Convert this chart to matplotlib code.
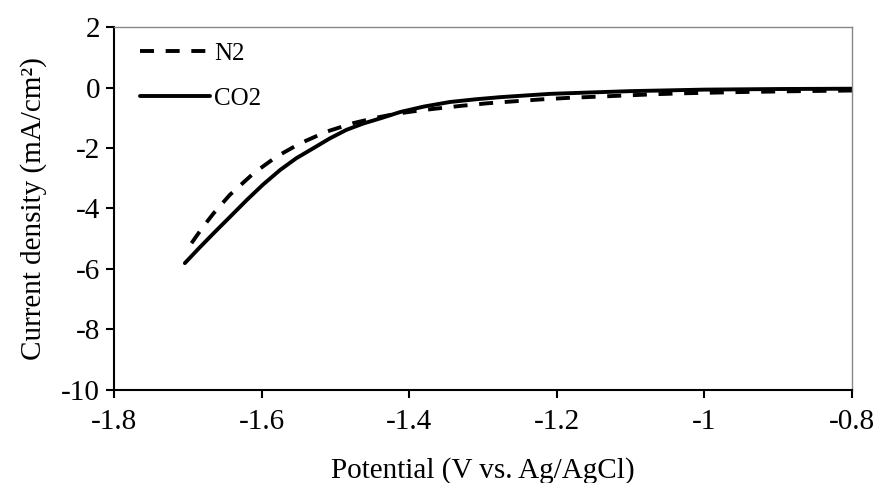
import matplotlib
matplotlib.use("Agg")
import matplotlib.pyplot as plt

# Linear sweep voltammetry under N2 and CO2
potential_n2 = [-1.695, -1.680, -1.665, -1.643, -1.611, -1.580, -1.548, -1.512,
                -1.476, -1.445, -1.420, -1.395, -1.368, -1.331, -1.293, -1.254,
                -1.219, -1.182, -1.141, -1.104, -1.064, -1.026, -0.950, -0.870,
                -0.800]
current_n2 = [-5.15, -4.63, -4.16, -3.55, -2.84, -2.29, -1.85, -1.46,
              -1.18, -1.00, -0.88, -0.79, -0.71, -0.61, -0.52, -0.45,
              -0.39, -0.34, -0.30, -0.26, -0.22, -0.19, -0.15, -0.12,
              -0.10]

potential_co2 = [-1.704, -1.685, -1.665, -1.642, -1.620, -1.598, -1.575, -1.553,
                 -1.530, -1.508, -1.485, -1.462, -1.439, -1.412, -1.380, -1.345,
                 -1.310, -1.277, -1.240, -1.209, -1.150, -1.100, -1.000, -0.900,
                 -0.800]
current_co2 = [-5.81, -5.32, -4.82, -4.26, -3.72, -3.21, -2.73, -2.34,
               -2.01, -1.69, -1.40, -1.19, -1.02, -0.81, -0.63, -0.48,
               -0.39, -0.32, -0.26, -0.21, -0.16, -0.12, -0.07, -0.05,
               -0.04]

x_ticks = [-1.8, -1.6, -1.4, -1.2, -1.0, -0.8]
x_tick_labels = ["-1.8", "-1.6", "-1.4", "-1.2", "-1", "-0.8"]
y_ticks = [-10, -8, -6, -4, -2, 0, 2]
y_tick_labels = ["-10", "-8", "-6", "-4", "-2", "0", "2"]

plt.rcParams["font.family"] = ["Liberation Serif", "DejaVu Serif"]
plt.rcParams["axes.unicode_minus"] = False

fig = plt.figure(figsize=(8.77, 4.83), dpi=100)
ax = fig.add_axes([0.130, 0.193, 0.9715 - 0.130, 0.944 - 0.193])

ax.plot(potential_n2, current_n2, color="black", lw=2.8, linestyle=(0, (3.6, 3.0)),
        dash_capstyle="butt", solid_joinstyle="round", label="N2")
ax.plot(potential_co2, current_co2, color="black", lw=2.8, solid_capstyle="round",
        solid_joinstyle="round", label="CO2")

ax.set_xlim(-1.8, -0.8)
ax.set_ylim(-10, 2)
ax.set_xticks(x_ticks)
ax.set_xticklabels(x_tick_labels)
ax.set_yticks(y_ticks)
ax.set_yticklabels(y_tick_labels)

for side in ("left", "bottom"):
    ax.spines[side].set_linewidth(1.5)
    ax.spines[side].set_color("black")
for side in ("top", "right"):
    ax.spines[side].set_linewidth(1.0)
    ax.spines[side].set_color("#888888")

ax.tick_params(axis="both", direction="out", length=6, width=1.5, labelsize=21,
               colors="black")
ax.tick_params(axis="x", pad=8)
ax.tick_params(axis="y", pad=4)

ax.set_xlabel("Potential (V vs. Ag/AgCl)", fontsize=21, labelpad=16)
ax.set_ylabel("Current density (mA/cm²)", fontsize=21, labelpad=10)

ax.legend(loc="upper left", frameon=False, fontsize=18, handlelength=2.8,
          handletextpad=0.15, labelspacing=0.9, borderaxespad=0.0,
          bbox_to_anchor=(0.022, 0.985))

fig.savefig("out.png", dpi=100)
